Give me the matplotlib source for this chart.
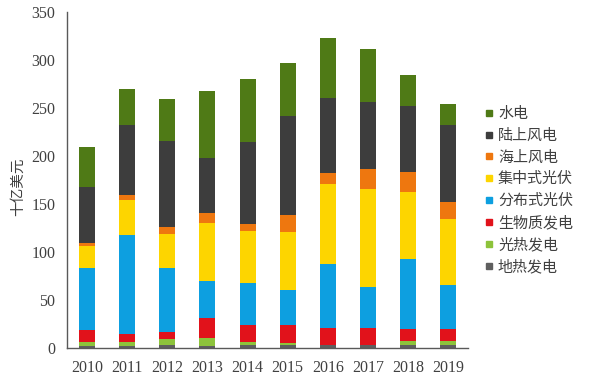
import matplotlib
matplotlib.use("Agg")
import matplotlib.pyplot as plt
from matplotlib.lines import Line2D
import numpy as np

years = ["2010", "2011", "2012", "2013", "2014", "2015", "2016", "2017", "2018", "2019"]
geothermal = [1.5, 1.5, 2.5, 2.0, 2.5, 2.5, 2.5, 2.5, 2.5, 3.0]
csp = [4.0, 4.1, 6.6, 7.7, 3.1, 2.4, 0.5, 0.5, 4.1, 3.6]
biomass = [12.3, 8.0, 7.6, 21.3, 18.4, 18.1, 17.2, 17.2, 12.9, 12.9]
dist_pv = [65.5, 104.4, 66.6, 39.0, 43.6, 37.6, 67.2, 43.2, 73.2, 45.3]
util_pv = [22.7, 36.6, 35.5, 60.3, 54.0, 59.9, 82.9, 102.4, 70.0, 69.7]
offshore = [3.4, 4.2, 7.2, 10.4, 7.6, 17.5, 11.5, 20.9, 20.5, 17.4]
onshore = [58.0, 73.2, 89.6, 56.8, 85.3, 103.7, 78.4, 70.0, 69.0, 80.4]
hydro = [42.5, 37.6, 44.3, 70.3, 66.2, 55.8, 62.7, 55.3, 32.0, 22.3]

series = [
    ("地热发电", geothermal, "#5f5f5f"),
    ("光热发电", csp, "#8dc33b"),
    ("生物质发电", biomass, "#e1121b"),
    ("分布式光伏", dist_pv, "#0d9fe0"),
    ("集中式光伏", util_pv, "#fdd500"),
    ("海上风电", offshore, "#ee770f"),
    ("陆上风电", onshore, "#3d3d3d"),
    ("水电", hydro, "#4f7a16"),
]

plt.rcParams['font.family'] = ['Noto Sans CJK SC', 'DejaVu Sans']

fig = plt.figure(figsize=(6.0, 3.86), dpi=100)
ax = fig.add_axes([0.112, 0.0997, 0.668, 0.868])

x = np.arange(len(years))
bottom = np.zeros(len(years))
for name, vals, col in series:
    v = np.array(vals)
    ax.bar(x, v, width=0.4, bottom=bottom, color=col, label=name, linewidth=0)
    bottom += v

ax.set_xlim(-0.5, 9.5)
ax.set_ylim(0, 350)
ax.set_yticks(range(0, 351, 50))
ax.set_xticks(x)
ax.set_xticklabels(years)
for lab in ax.get_xticklabels() + ax.get_yticklabels():
    lab.set_fontfamily(['Liberation Serif', 'DejaVu Serif'])
    lab.set_fontsize(11.5)
    lab.set_color('#404040')
ax.tick_params(axis='x', length=0, pad=9)
ax.tick_params(axis='y', length=0, pad=8.5)
for s in ['top', 'right']:
    ax.spines[s].set_visible(False)
for s in ['left', 'bottom']:
    ax.spines[s].set_color('#595959')
    ax.spines[s].set_linewidth(1.0)

ax.set_ylabel("十亿美元", fontsize=10.5, color='#404040')
ax.yaxis.set_label_coords(-0.105, 0.48)

handles = [Line2D([0], [0], marker='s', linestyle='none', markersize=5,
                  markerfacecolor=col, markeredgecolor=col, label=name)
           for name, vals, col in reversed(series)]
fig.legend(handles=handles, loc='upper left', bbox_to_anchor=(0.785, 0.757),
           frameon=False, fontsize=10.8, handlelength=0.6, handletextpad=0.3,
           labelspacing=0.5, labelcolor='#404040')

fig.savefig("out.png", dpi=100)
